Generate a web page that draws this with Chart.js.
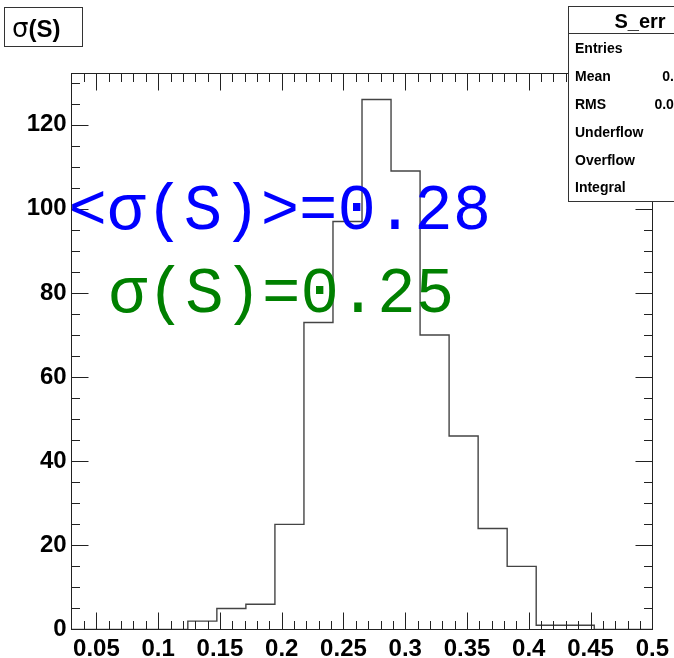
<!DOCTYPE html>
<html><head><meta charset="utf-8">
<script src="https://cdn.jsdelivr.net/npm/chart.js@4/dist/chart.umd.min.js"></script>
<style>html,body{margin:0;padding:0;background:#fff;overflow:hidden}</style>
</head><body>
<canvas id="c" width="674" height="658"></canvas>
<script>
// ---- data ----
const binEdges = [0.03, 0.0535, 0.077, 0.1005, 0.124, 0.1475, 0.171, 0.1945, 0.218, 0.2415, 0.265,
                  0.2885, 0.312, 0.3355, 0.359, 0.3825, 0.406, 0.4295, 0.453, 0.4765, 0.5];
const counts   = [0, 0, 0, 0, 2, 5, 6, 25, 73, 97, 126, 109, 70, 46, 24, 15, 1, 1, 0, 0];
const xTickValues = [0.05, 0.1, 0.15, 0.2, 0.25, 0.3, 0.35, 0.4, 0.45, 0.5];
const yTickValues = [0, 20, 40, 60, 80, 100, 120];
const titleSymbol = 'σ';
const titleRest = '(S)';
const statsName = 'S_err';
const statLabels = ['Entries', 'Mean', 'RMS', 'Underflow', 'Overflow', 'Integral'];
const statValues = ['600', '0.2843', '0.04402', '0', '0', '600'];
const meanText = '<σ(S)>=0.28';
const sigmaText = 'σ(S)=0.25';

// ---- build ----
const points = binEdges.map((e, i) => ({x: e, y: i < counts.length ? counts[i] : 0}));

const rootDeco = {
  id: 'rootDeco',
  afterDatasetsDraw(chart) {
    const {ctx, chartArea: a, scales: {x, y}} = chart;
    ctx.save();
    ctx.strokeStyle = '#222';
    ctx.lineWidth = 1;
    const L = Math.round(a.left) - 0.5, R = Math.round(a.right) + 0.5;
    const T = Math.round(a.top) + 0.5, B = Math.round(a.bottom) - 0.5;
    ctx.strokeRect(L, T, R - L, B - T);
    const majLen = 17, minLen = 8.5;
    ctx.beginPath();
    for (let k = 4; k <= 49; k++) {
      const v = k / 100;
      const px = Math.round(x.getPixelForValue(v)) + 0.5;
      const len = (k % 5 === 0) ? majLen : minLen;
      ctx.moveTo(px, B); ctx.lineTo(px, B - len);
      ctx.moveTo(px, T); ctx.lineTo(px, T + len);
    }
    for (let v = 5; v <= 130; v += 5) {
      const py = Math.round(y.getPixelForValue(v)) + 0.5;
      const len = (v % 20 === 0) ? majLen : minLen;
      ctx.moveTo(L, py); ctx.lineTo(L + len, py);
      ctx.moveTo(R, py); ctx.lineTo(R - len, py);
    }
    ctx.stroke();
    ctx.restore();
  },
  afterDraw(chart) {
    const {ctx, scales: {x, y}} = chart;
    ctx.save();
    ctx.font = '64px "Liberation Mono"';
    ctx.textBaseline = 'alphabetic';
    ctx.textAlign = 'left';
    ctx.fillStyle = '#0000ff';
    ctx.fillText(meanText, x.getPixelForValue(0.0275), y.getPixelForValue(95.1));
    ctx.fillStyle = '#008000';
    ctx.fillText(sigmaText, x.getPixelForValue(0.0597), y.getPixelForValue(75.4));

    // title box
    ctx.fillStyle = '#fff';
    ctx.fillRect(4.5, 7.5, 78, 39);
    ctx.strokeStyle = '#333';
    ctx.lineWidth = 1;
    ctx.strokeRect(4.5, 7.5, 78, 39);
    ctx.fillStyle = '#000';
    ctx.font = '26px "DejaVu Sans"';
    ctx.fillText(titleSymbol, 12, 37);
    const sw = ctx.measureText(titleSymbol).width;
    ctx.font = 'bold 24px "Liberation Sans"';
    ctx.fillText(titleRest, 12 + sw, 37);

    // stats box
    const bx = 568.5, by = 6.5, bw = 143, bh = 195;
    ctx.fillStyle = '#fff';
    ctx.fillRect(bx, by, bw, bh);
    ctx.strokeStyle = '#333';
    ctx.strokeRect(bx, by, bw, bh);
    ctx.beginPath();
    ctx.moveTo(bx, 33.5); ctx.lineTo(bx + bw, 33.5);
    ctx.stroke();
    ctx.fillStyle = '#000';
    ctx.font = 'bold 20px "Liberation Sans"';
    ctx.textAlign = 'center';
    ctx.fillText(statsName, bx + bw / 2, 28);
    ctx.font = 'bold 14px "Liberation Sans"';
    ctx.textBaseline = 'middle';
    statLabels.forEach((lab, i) => {
      const ry = 49.5 + i * 27.8;
      ctx.textAlign = 'left';
      ctx.fillText(lab, 575, ry);
      ctx.textAlign = 'right';
      ctx.fillText(statValues[i], 705, ry);
    });
    ctx.restore();
  }
};

const tickFont = {family: '"Liberation Sans", Arial, sans-serif', size: 24, weight: 'bold'};

new Chart(document.getElementById('c'), {
  type: 'line',
  data: {datasets: [{
    data: points,
    stepped: 'before',
    borderColor: '#444',
    borderWidth: 1.4,
    pointRadius: 0,
    fill: false
  }]},
  options: {
    responsive: false,
    animation: false,
    events: [],
    layout: {padding: {top: 73, right: 17.5, left: 0, bottom: 0}},
    plugins: {legend: {display: false}, tooltip: {enabled: false}, title: {display: false}},
    scales: {
      x: {
        type: 'linear', min: 0.03, max: 0.5,
        grid: {display: false, drawTicks: false},
        border: {display: false},
        afterBuildTicks: s => { s.ticks = xTickValues.map(v => ({value: v})); },
        afterFit: s => { s.height = 28.5; },
        ticks: {
          font: tickFont, color: '#000', padding: 5, maxRotation: 0, autoSkip: false,
          callback: v => String(parseFloat(Number(v).toFixed(3)))
        }
      },
      y: {
        type: 'linear', min: 0, max: 132.3,
        grid: {display: false, drawTicks: false},
        border: {display: false},
        afterBuildTicks: s => { s.ticks = yTickValues.map(v => ({value: v})); },
        afterFit: s => { s.width = 71.7; },
        ticks: {font: tickFont, color: '#000', padding: 5, autoSkip: false,
          callback: v => String(v)}
      }
    }
  },
  plugins: [rootDeco]
});
</script>
</body></html>
